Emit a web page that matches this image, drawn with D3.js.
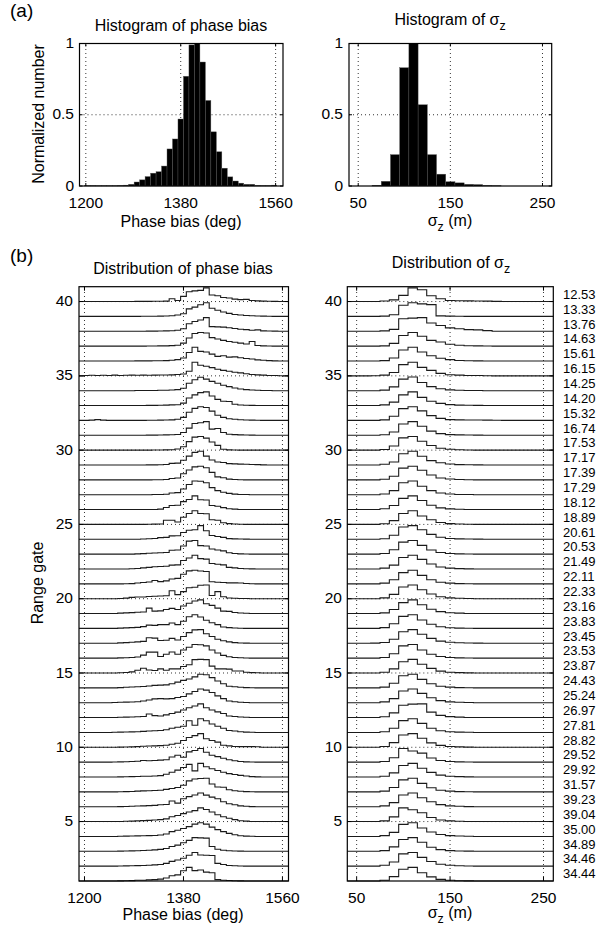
<!DOCTYPE html>
<html><head><meta charset="utf-8">
<script src="https://cdn.jsdelivr.net/npm/d3@7"></script>
<style>body{margin:0;background:#fff} text{font-family:"Liberation Sans",Arial,sans-serif;fill:#000}</style>
</head><body><svg id="c" width="598" height="931"></svg>
<script>
// ---------------- DATA ----------------
const phaseEdges = [1198,1208.4,1218.8,1229.2,1239.6,1250,1260.4,1270.8,1281.2,1291.6,1302,1312.4,1322.8,1333.2,1343.6,1354,1364.4,1374.8,1385.2,1395.6,1406,1416.4,1426.8,1437.2,1447.6,1458,1468.4,1478.8,1489.2,1499.6,1510,1520.4,1530.8,1541.2,1551.6,1562];
const phaseHist = [.003,.003,.002,.002,.002,.002,.004,.006,.012,.028,.043,.066,.09,.1,.14,.26,.33,.47,.77,.99,1,.87,.6,.38,.24,.125,.064,.035,.02,.012,.012,.004,.003,.003,.006];
const sigmaEdges = [55,65,75,85,95,105,115,125,135,145,155,165,175,185,195,205];
const sigmaHist = [0,.005,.033,.22,.83,1,.57,.22,.083,.03,.022,.012,.01,.004,.002];
const phaseTicks = [1200,1380,1560];
const sigmaTicks = [50,150,250];
const normTicks = [0,0.5,1];
const gateTicks = [5,10,15,20,25,30,35,40];
const gates = [40,39,38,37,36,35,34,33,32,31,30,29,28,27,26,25,24,23,22,21,20,19,18,17,16,15,14,13,12,11,10,9,8,7,6,5,4,3,2,1];
const distEdges = [65,75,85,95,105,115,125,135,145,155,165,175,185,195,205];
const gateLabels = ["12.53","13.33","13.76","14.63","15.61","16.15","14.25","14.20","15.32","16.74","17.53","17.17","17.39","17.29","18.12","18.89","20.61","20.53","21.49","22.11","22.33","23.16","23.83","23.45","23.53","23.87","24.43","25.24","26.97","27.81","28.82","29.52","29.92","31.57","39.23","39.04","35.00","34.89","34.46","34.44"];
// phase-bias distribution per range gate (same order as gates), bins of phaseEdges
const phaseDist = [
[0,0,0,0,0,0,0,0,0,.01,.01,.01,.02,.02,.03,.2,.08,.38,.72,.78,.82,1,.48,.42,.3,.26,.18,.14,.16,.08,.05,.03,.02,.01,0],
[0,0,0,0,0,0,0,0,0,0,.01,.01,.01,.02,.03,.05,.1,.2,.55,.68,.85,1,.6,.45,.32,.22,.14,.1,.07,.05,.03,.02,.01,0,0],
[0,0,0,0,0,0,0,0,0,0,0,.01,.01,.02,.03,.04,.08,.18,.55,.72,.82,1,.34,.32,.3,.26,.2,.15,.12,.08,.1,.03,.02,.01,0],
[0,0,0,0,0,0,0,0,0,0,0,.01,.01,.02,.02,.04,.06,.22,.6,.92,1,.96,.62,.52,.42,.34,.28,.22,.16,.34,.05,.02,.01,0,0],
[0,0,0,0,0,0,0,0,0,.01,.01,.01,.02,.02,.03,.05,.1,.22,.62,1,.7,.66,.5,.34,.38,.28,.3,.24,.18,.14,.08,.05,.03,.01,0],
[.03,.04,.02,.04,.03,.05,.03,.04,.05,.04,.05,.04,.05,.06,.06,.07,.1,.14,.34,1,.78,.7,.6,.48,.4,.34,.26,.22,.15,.1,.07,.05,.03,.02,.01],
[0,0,0,0,0,0,0,0,0,.01,.01,.02,.02,.03,.03,.05,.08,.18,.55,.8,.98,.85,.68,.55,.4,.3,.2,.12,.08,.05,.03,.02,.01,0,0],
[0,0,0,0,0,0,0,0,0,0,0,.01,.01,.02,.03,.05,.06,.18,.55,.78,.95,1,.7,.45,.32,.3,.1,.04,.02,.01,0,0,0,0,0],
[0,.02,.06,.02,0,0,0,0,0,0,0,.01,.01,.02,.03,.04,.08,.22,.6,.88,1,.95,.68,.38,.22,.12,.08,.05,.03,.02,.01,0,0,0,0],
[0,0,0,0,0,0,0,0,0,0,0,.01,.01,.02,.03,.04,.06,.2,.52,.86,.92,1,.45,.5,.2,.08,.05,.03,.02,.01,0,0,0,0,0],
[0,0,0,0,0,0,0,0,0,0,0,0,.01,.01,.02,.03,.08,.25,.62,.95,1,.88,.6,.35,.06,.02,.01,0,0,0,0,0,0,0,0],
[0,0,0,0,0,0,0,0,0,0,0,.01,.01,.02,.04,.12,.14,.35,.65,.92,1,.65,.36,.22,.18,.1,.08,.06,.05,.04,.03,.01,0,0,0],
[0,0,0,0,0,0,0,0,0,0,0,0,.01,.01,.02,.1,.14,.45,.72,.95,1,.88,.55,.22,.15,.05,.03,.01,0,0,0,0,0,0,0],
[0,0,0,0,0,0,0,0,0,0,0,0,.01,.02,.03,.12,.15,.42,.75,1,.98,.88,.52,.3,.18,.1,.04,.02,.01,0,0,0,0,0,0],
[0,0,0,0,0,0,0,0,0,0,0,.01,.01,.03,.15,.3,.32,.58,.74,1,.72,.7,.3,.24,.14,.06,.03,.01,0,0,0,0,0,0,0],
[0,0,0,0,0,0,0,0,0,0,0,.01,.02,.03,.3,.3,.18,.52,.8,1,.8,.78,.34,.3,.12,.06,.03,.01,0,0,0,0,0,0,0],
[0,0,0,0,0,0,0,0,0,0,.02,.04,.06,.12,.14,.25,.26,.5,.66,.7,1,.62,.28,.2,.14,.05,.03,.02,.01,0,0,0,0,0,0],
[0,0,0,0,0,0,0,0,0,.02,.04,.06,.08,.1,.12,.28,.3,.6,.95,1,.62,.6,.38,.3,.24,.1,.05,.02,.01,0,0,0,0,0,0],
[0,0,0,0,0,0,0,0,.02,.04,.08,.12,.16,.18,.2,.28,.3,.62,.8,1,.76,.72,.4,.35,.3,.12,.08,.04,.02,.01,0,0,0,0,0],
[0,0,0,0,0,0,0,.01,.02,.06,.1,.14,.25,.16,.22,.36,.4,.7,.95,1,.94,.9,.15,.12,.1,.07,.07,.06,.03,.01,0,0,0,0,0],
[0,0,0,0,0,0,.02,.04,.1,.12,.13,.16,.18,.2,.22,.58,.3,.52,.8,.84,.98,1,.24,.52,.14,.05,.03,.02,.01,0,0,0,0,0,0],
[0,0,0,0,0,0,.03,.05,.07,.1,.12,.4,.18,.2,.3,.38,.3,.55,.75,.92,1,.72,.6,.4,.18,.16,.08,.04,.02,.01,0,0,0,0,0],
[0,0,0,0,0,0,.02,.04,.06,.08,.13,.24,.22,.28,.28,.4,.28,.52,.85,1,.84,.6,.42,.28,.1,.06,.03,.01,0,0,0,0,0,0,0],
[0,0,0,0,0,0,.03,.05,.08,.1,.14,.4,.38,.2,.22,.36,.24,.5,.78,.98,1,.7,.5,.3,.18,.1,.05,.02,.01,0,0,0,0,0,0],
[0,0,0,0,0,0,.02,.03,.05,.08,.22,.44,.44,.12,.28,.45,.28,.6,.8,1,.98,.9,.6,.38,.2,.1,.05,.03,.01,0,0,0,0,0,0],
[0,0,0,0,0,0,.02,.04,.08,.2,.35,.22,.18,.3,.2,.3,.3,.48,.6,.98,1,.98,.5,.3,.3,.28,.15,.15,.05,.03,.02,0,0,0,0],
[0,0,0,0,0,0,.02,.04,.06,.08,.1,.14,.18,.2,.22,.3,.42,.55,.65,.8,1,.96,.75,.5,.3,.12,.08,.04,.02,.01,0,0,0,0,0],
[0,0,0,0,0,.02,.03,.04,.05,.07,.12,.2,.28,.3,.28,.3,.38,.45,.65,.82,1,.92,.75,.5,.3,.12,.07,.03,.01,0,0,0,0,0,0],
[0,0,0,0,0,.01,.02,.03,.04,.06,.08,.26,.14,.12,.2,.3,.4,.55,.72,.85,1,.72,.55,.42,.3,.12,.08,.04,.02,.01,0,0,0,0,0],
[0,0,0,0,0,.01,.02,.03,.04,.05,.08,.1,.12,.14,.2,.3,.38,.45,.85,.52,1,.85,.62,.45,.3,.14,.1,.05,.02,.01,0,0,0,0,0],
[0,0,0,0,0,0,.01,.02,.03,.05,.08,.09,.1,.12,.15,.22,.3,.5,.72,.85,1,.62,.5,.38,.15,.1,.06,.05,.05,.05,.04,0,0,0,0],
[0,0,0,0,0,.01,.02,.03,.05,.06,.12,.1,.12,.15,.18,.38,.5,.36,.75,.85,1,.72,.5,.4,.28,.18,.1,.05,.02,.01,0,0,0,0,0],
[0,0,0,0,0,0,.01,.02,.03,.04,.05,.06,.07,.1,.2,.35,.5,.7,.92,.45,1,.75,.6,.48,.35,.25,.18,.12,.07,.03,.01,0,0,0,0],
[0,0,0,0,0,0,.01,.02,.03,.05,.07,.08,.1,.12,.18,.25,.32,.48,.8,.94,.98,1,.58,.36,.34,.15,.08,.04,.02,.01,0,0,0,0,0],
[0,0,0,0,0,0,.01,.02,.03,.05,.06,.08,.1,.14,.16,.42,.26,.58,.74,.86,1,.85,.7,.58,.36,.22,.14,.06,.03,.01,0,0,0,0,0],
[0,0,0,0,0,0,.01,.02,.03,.05,.07,.09,.11,.14,.2,.35,.44,.58,.7,.8,1,.88,.7,.5,.35,.24,.14,.06,.03,.01,0,0,0,0,0],
[0,0,0,0,0,0,.01,.02,.03,.04,.05,.06,.07,.1,.18,.35,.45,.58,.72,.9,1,.9,.68,.5,.35,.22,.12,.05,.02,.01,0,0,0,0,0],
[0,0,0,0,0,0,.01,.02,.03,.04,.06,.08,.1,.14,.2,.35,.45,.62,.8,1,.98,.96,.35,.15,.08,.04,.02,.01,0,0,0,0,0,0,0],
[0,0,0,0,0,0,.01,.02,.03,.04,.05,.07,.09,.12,.2,.35,.45,.58,.8,1,.82,.8,.78,.2,.12,.05,.03,.01,0,0,0,0,0,0,0],
[0,0,0,0,0,0,.01,.02,.03,.05,.06,.08,.1,.14,.22,.38,.45,.75,1,.76,.8,.65,.6,.1,.06,.04,.02,.01,0,0,0,0,0,0,0]
];
// sigma_z distribution per range gate (same order as gates), bins of distEdges
const sigmaDist = [
[0,.04,.12,.45,1,.86,.42,.2,.08,.06,.05,.04,.03,.01],
[0,.02,.12,.82,1,.92,.86,.04,.02,.01,0,0,0,0],
[0,.03,.14,.92,.96,1,.6,.42,.25,.18,.12,.1,.05,0],
[0,.02,.2,.78,1,.72,.42,.3,.14,.06,.03,.02,.01,0],
[0,.03,.22,.8,1,.66,.38,.2,.1,.04,.02,.01,0,0],
[.01,.05,.24,.82,1,.62,.4,.18,.08,.05,.03,.02,.01,0],
[0,.04,.28,.85,1,.6,.3,.14,.06,.03,.02,.01,0,0],
[0,.05,.25,.78,1,.6,.32,.16,.07,.03,.02,.01,0,0],
[0,.04,.3,.86,1,.7,.35,.15,.06,.04,.03,.03,.02,.01],
[0,.04,.24,.82,1,.66,.3,.12,.05,.03,.02,.01,0,0],
[0,.05,.3,.9,1,.65,.34,.14,.06,.03,.01,0,0,0],
[0,.05,.22,.82,1,.64,.32,.16,.07,.03,.02,.01,0,0],
[0,.04,.26,.86,1,.7,.36,.14,.06,.03,.01,0,0,0],
[0,.05,.3,.88,1,.62,.3,.12,.05,.02,.01,0,0,0],
[0,.06,.3,.82,1,.66,.32,.12,.05,.02,.01,0,0,0],
[0,.05,.28,.8,1,.62,.34,.14,.06,.03,.01,0,0,0],
[0,.04,.3,.9,1,.7,.36,.15,.06,.03,.02,.01,0,0],
[0,.05,.32,.88,1,.64,.3,.12,.05,.02,.01,0,0,0],
[0,.06,.28,.84,1,.7,.36,.15,.06,.03,.01,0,0,0],
[0,.05,.3,.82,1,.62,.3,.12,.05,.02,.01,0,0,0],
[0,.06,.32,.86,1,.66,.34,.14,.06,.03,.01,0,0,0],
[0,.05,.3,.8,1,.64,.32,.14,.06,.03,.01,0,0,0],
[0,.06,.34,.88,1,.62,.3,.12,.05,.02,.01,0,0,0],
[.01,.06,.3,.84,1,.66,.36,.16,.07,.04,.02,.01,0,0],
[0,.05,.32,.9,1,.6,.28,.12,.05,.02,.01,0,0,0],
[0,.06,.3,.82,1,.64,.34,.14,.06,.03,.01,0,0,0],
[0,.05,.34,.88,1,.62,.3,.12,.05,.02,.01,0,0,0],
[0,.06,.3,.86,1,.68,.36,.15,.06,.03,.01,0,0,0],
[0,.06,.34,.9,.98,1,.4,.16,.07,.03,.01,0,0,0],
[0,.05,.3,.86,1,.66,.3,.12,.05,.02,.01,0,0,0],
[0,.06,.34,.9,1,.66,.32,.14,.06,.03,.01,0,0,0],
[0,.05,.32,1,.82,.66,.3,.12,.05,.02,.01,0,0,0],
[0,.06,.3,.84,1,.64,.34,.14,.06,.03,.01,0,0,0],
[0,.05,.32,.88,1,.62,.3,.12,.05,.02,.01,0,0,0],
[0,.06,.3,.86,1,.66,.36,.15,.06,.03,.01,0,0,0],
[0,.05,.34,1,.86,.64,.3,.12,.05,.02,.01,0,0,0],
[0,.06,.3,.88,1,.62,.32,.14,.06,.03,.01,0,0,0],
[0,.05,.32,.86,1,.66,.3,.12,.05,.02,.01,0,0,0],
[0,.06,.3,.9,1,.64,.34,.14,.06,.03,.01,0,0,0],
[0,.05,.32,.86,1,.6,.3,.12,.05,.02,.01,0,0,0]
];

// ---------------- DRAWING ----------------
const svg = d3.select("#c");
const FS = 16;   // titles / axis labels
const TFS = 15.5; // tick labels

function frame(x, y, xt, yGrid) {
  const g = svg.append("g");
  const [x0, x1] = x.range(), [y0, y1] = y.range();
  const grid = g.append("g").attr("stroke", "#000").attr("stroke-width", 0.8).attr("stroke-dasharray", "1,3");
  xt.forEach(v => grid.append("line").attr("x1", x(v)).attr("x2", x(v)).attr("y1", y0).attr("y2", y1));
  yGrid.forEach(v => grid.append("line").attr("x1", x0).attr("x2", x1).attr("y1", y(v)).attr("y2", y(v)));
  return g;
}
function finish(g, x, y, xt, yt, tl) {
  const [x0, x1] = x.range(), [y0, y1] = y.range();
  g.append("rect").attr("x", x0).attr("y", y1).attr("width", x1 - x0).attr("height", y0 - y1)
    .attr("fill", "none").attr("stroke", "#000").attr("stroke-width", 1.2);
  const t = g.append("g").attr("stroke", "#000").attr("stroke-width", 1);
  xt.forEach(v => {
    t.append("line").attr("x1", x(v)).attr("x2", x(v)).attr("y1", y0).attr("y2", y0 - tl);
    t.append("line").attr("x1", x(v)).attr("x2", x(v)).attr("y1", y1).attr("y2", y1 + tl);
  });
  yt.forEach(v => {
    t.append("line").attr("x1", x0).attr("x2", x0 + tl).attr("y1", y(v)).attr("y2", y(v));
    t.append("line").attr("x1", x1).attr("x2", x1 - tl).attr("y1", y(v)).attr("y2", y(v));
  });
}
function xLabels(x, ticks, baseY) {
  svg.append("g").selectAll("text").data(ticks).join("text")
    .attr("x", d => x(d)).attr("y", baseY).attr("text-anchor", "middle").attr("font-size", TFS).text(d => d);
}
function yLabels(y, ticks, rightX) {
  svg.append("g").selectAll("text").data(ticks).join("text")
    .attr("x", rightX).attr("y", d => y(d)).attr("dy", "0.3em").attr("text-anchor", "end")
    .attr("font-size", TFS).text(d => d);
}
function sigmaText(sel, before, after, size) {
  sel.append("tspan").text(before + "σ");
  sel.append("tspan").attr("font-size", size * 0.78).attr("dy", size * 0.32).text("z");
  if (after) sel.append("tspan").attr("dy", -size * 0.32).text(after);
}

// ---- (a) top-left: histogram of phase bias
{
  const x = d3.scaleLinear().domain([1188, 1574]).range([79.5, 283]);
  const y = d3.scaleLinear().domain([0, 1]).range([186, 43.5]);
  const g = frame(x, y, phaseTicks, [0.5]);
  g.append("g").selectAll("rect").data(phaseHist).join("rect")
    .attr("x", (d, i) => x(phaseEdges[i])).attr("width", (d, i) => x(phaseEdges[i + 1]) - x(phaseEdges[i]))
    .attr("y", d => y(d)).attr("height", d => y(0) - y(d)).attr("fill", "#000")
    .attr("stroke", "#555").attr("stroke-width", 0.4);
  finish(g, x, y, phaseTicks, normTicks, 3);
  xLabels(x, phaseTicks, 208);
  yLabels(y, normTicks, 74);
  svg.append("text").attr("x", 181).attr("y", 31).attr("text-anchor", "middle").attr("font-size", FS).text("Histogram of phase bias");
  svg.append("text").attr("x", 181).attr("y", 227).attr("text-anchor", "middle").attr("font-size", FS).text("Phase bias (deg)");
  svg.append("text").attr("transform", "translate(44,114) rotate(-90)").attr("text-anchor", "middle").attr("font-size", FS).text("Normalized number");
}
// ---- top-right: histogram of sigma_z
{
  const x = d3.scaleLinear().domain([40, 260]).range([349, 551.7]);
  const y = d3.scaleLinear().domain([0, 1]).range([186, 43.5]);
  const g = frame(x, y, sigmaTicks, [0.5]);
  g.append("g").selectAll("rect").data(sigmaHist).join("rect")
    .attr("x", (d, i) => x(sigmaEdges[i])).attr("width", (d, i) => x(sigmaEdges[i + 1]) - x(sigmaEdges[i]))
    .attr("y", d => y(d)).attr("height", d => y(0) - y(d)).attr("fill", "#000")
    .attr("stroke", "#555").attr("stroke-width", 0.4);
  finish(g, x, y, sigmaTicks, normTicks, 3);
  xLabels(x, sigmaTicks, 208);
  yLabels(y, normTicks, 343);
  sigmaText(svg.append("text").attr("x", 450).attr("y", 25).attr("text-anchor", "middle").attr("font-size", FS), "Histogram of ", "", FS);
  sigmaText(svg.append("text").attr("x", 450).attr("y", 226).attr("text-anchor", "middle").attr("font-size", FS), "", " (m)", FS);
}
svg.append("text").attr("x", 10).attr("y", 17).attr("font-size", 19).text("(a)");
svg.append("text").attr("x", 10).attr("y", 262).attr("font-size", 19).text("(b)");

const ROW = 0.92;
function stairs(x, y, edges, vals, gate) {
  const xd = x.domain();
  const pts = [[xd[0], 0]];
  vals.forEach((v, i) => pts.push([edges[i], v]));
  pts.push([edges[vals.length], 0], [xd[1], 0]);
  return d3.line().curve(d3.curveStepAfter).x(p => x(p[0])).y(p => y(gate + p[1] * ROW))(pts);
}
// ---- (b) bottom-left: distribution of phase bias per gate
{
  const x = d3.scaleLinear().domain([1190, 1571]).range([79, 288.5]);
  const y = d3.scaleLinear().domain([1, 41]).range([881, 286.7]);
  const g = frame(x, y, phaseTicks, gateTicks);
  g.append("g").selectAll("path").data(phaseDist).join("path")
    .attr("d", (d, i) => stairs(x, y, phaseEdges, d, gates[i]))
    .attr("fill", "none").attr("stroke", "#1a1a1a").attr("stroke-width", 1.1);
  finish(g, x, y, phaseTicks, gateTicks, 4);
  xLabels(x, phaseTicks, 903);
  yLabels(y, gateTicks, 73);
  svg.append("text").attr("x", 183).attr("y", 274).attr("text-anchor", "middle").attr("font-size", FS).text("Distribution of phase bias");
  svg.append("text").attr("x", 183).attr("y", 920).attr("text-anchor", "middle").attr("font-size", FS).text("Phase bias (deg)");
  svg.append("text").attr("transform", "translate(43,583) rotate(-90)").attr("text-anchor", "middle").attr("font-size", FS).text("Range gate");
}
// ---- bottom-right: distribution of sigma_z per gate
{
  const x = d3.scaleLinear().domain([40, 260.5]).range([347.3, 553.3]);
  const y = d3.scaleLinear().domain([1, 41]).range([881, 286.7]);
  const g = frame(x, y, sigmaTicks, gateTicks);
  g.append("g").selectAll("path").data(sigmaDist).join("path")
    .attr("d", (d, i) => stairs(x, y, distEdges, d, gates[i]))
    .attr("fill", "none").attr("stroke", "#1a1a1a").attr("stroke-width", 1.1);
  finish(g, x, y, sigmaTicks, gateTicks, 4);
  xLabels(x, sigmaTicks, 903);
  yLabels(y, gateTicks, 342);
  sigmaText(svg.append("text").attr("x", 451).attr("y", 268).attr("text-anchor", "middle").attr("font-size", FS), "Distribution of ", "", FS);
  sigmaText(svg.append("text").attr("x", 450).attr("y", 918).attr("text-anchor", "middle").attr("font-size", FS), "", " (m)", FS);
  svg.append("g").selectAll("text").data(gateLabels).join("text")
    .attr("x", 563).attr("y", (d, i) => y(gates[i] + 0.5)).attr("dy", "0.36em")
    .attr("font-size", 13).text(d => d);
}
</script></body></html>
